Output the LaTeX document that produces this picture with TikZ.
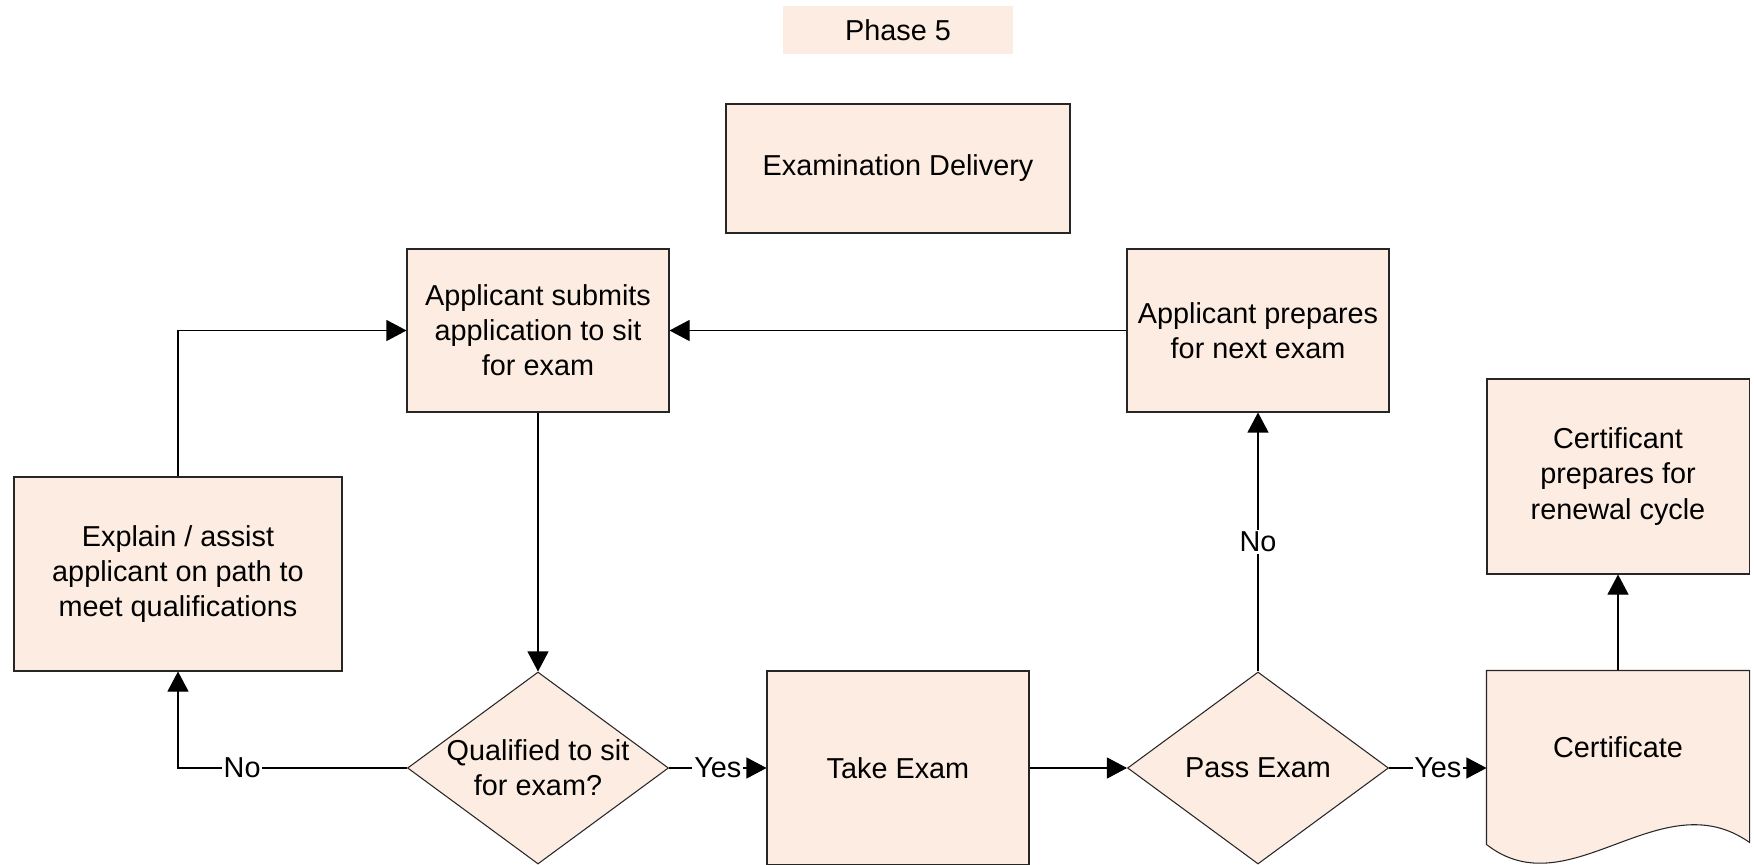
\documentclass[tikz,border=0pt]{standalone}
\usepackage{fontspec}
\setmainfont{Liberation Sans}
\usetikzlibrary{shapes.geometric, positioning, arrows.meta,
backgrounds % for the wavy outline of the certificate
}
\definecolor{peach}{RGB}{252,236,225}
\tikzset{%
  node distance=7.2cm, % centre to centre along the bottom row
  on grid,
  every node/.style={font=\fontsize{16.4}{20}\selectfont},
  box/.style={draw=black!85, fill=peach, semithick, align=center,
    minimum width=5.24cm, minimum height=3.26cm, inner sep=2pt},
  decision/.style={diamond, aspect=1.36, draw=black!85, fill=peach, semithick,
    align=center, minimum width=5.22cm, minimum height=3.84cm, inner sep=0pt},
  flow/.style={draw, ->, >={Triangle[length=0.4cm,width=0.42cm]}, semithick},
  tag/.style={fill=white, inner sep=1pt}
}

\begin{document}
\begin{tikzpicture}
    \useasboundingbox (0,0) rectangle (35.08,-17.30);

    \node[decision] (qual) at (10.76,-15.36) {Qualified to sit\\for exam?};
    \node[box, minimum height=3.88cm, right of=qual] (take) {Take Exam};
    \node[decision, right of=take] (pass) {Pass Exam};
    \node[box, draw=none, fill=none, minimum height=3.04cm,
      above right=0.42cm and 7.2cm of pass] (cert) {Certificate};
    \node[box, minimum height=3.9cm, above=5.41cm of cert] (renew) {Certificant\\prepares for\\renewal cycle};
    \node[box, above=8.75cm of qual] (submit) {Applicant submits\\application to sit\\for exam};
    \node[box, above=8.75cm of pass] (prepare) {Applicant prepares\\for next exam};
    \node[box, minimum width=6.56cm, minimum height=3.88cm,
      above left=3.88cm and 7.2cm of qual] (explain) {Explain / assist\\applicant on path to\\meet qualifications};
    \node[box, minimum width=6.88cm, minimum height=2.58cm, above=11.99cm of take] (delivery) {Examination Delivery};
    \node[fill=peach, minimum width=4.6cm, minimum height=0.96cm, above=14.76cm of take] (phase) {Phase 5};

    \begin{scope}[on background layer]
      \draw[draw=black!85, fill=peach, semithick] (cert.north west) -- (cert.north east) -- ++(0,-3.44)
        .. controls +(-1.78,1.26) and +(1.66,-1.3) .. ([yshift=-3.48cm]cert.north west) -- cycle;
    \end{scope}

    \draw[flow] (submit.south) -- (qual.north);
    \draw[flow] (qual.west) -| node[tag, pos=0.36] {No} (explain.south);
    \draw[flow] (explain.north) |- (submit.west);
    \draw[flow] (qual.east) -- node[tag] {Yes} (take.west);
    \draw[flow] (take.east) -- (pass.west);
    \draw[flow] (pass.north) -- node[tag] {No} (prepare.south);
    \draw[flow] (pass.east) -- node[tag] {Yes} (pass.east -| cert.west);
    \draw[flow] (cert.north) -- (renew.south);
    \draw[flow] (prepare.west) -- (submit.east);
\end{tikzpicture}
\end{document}
